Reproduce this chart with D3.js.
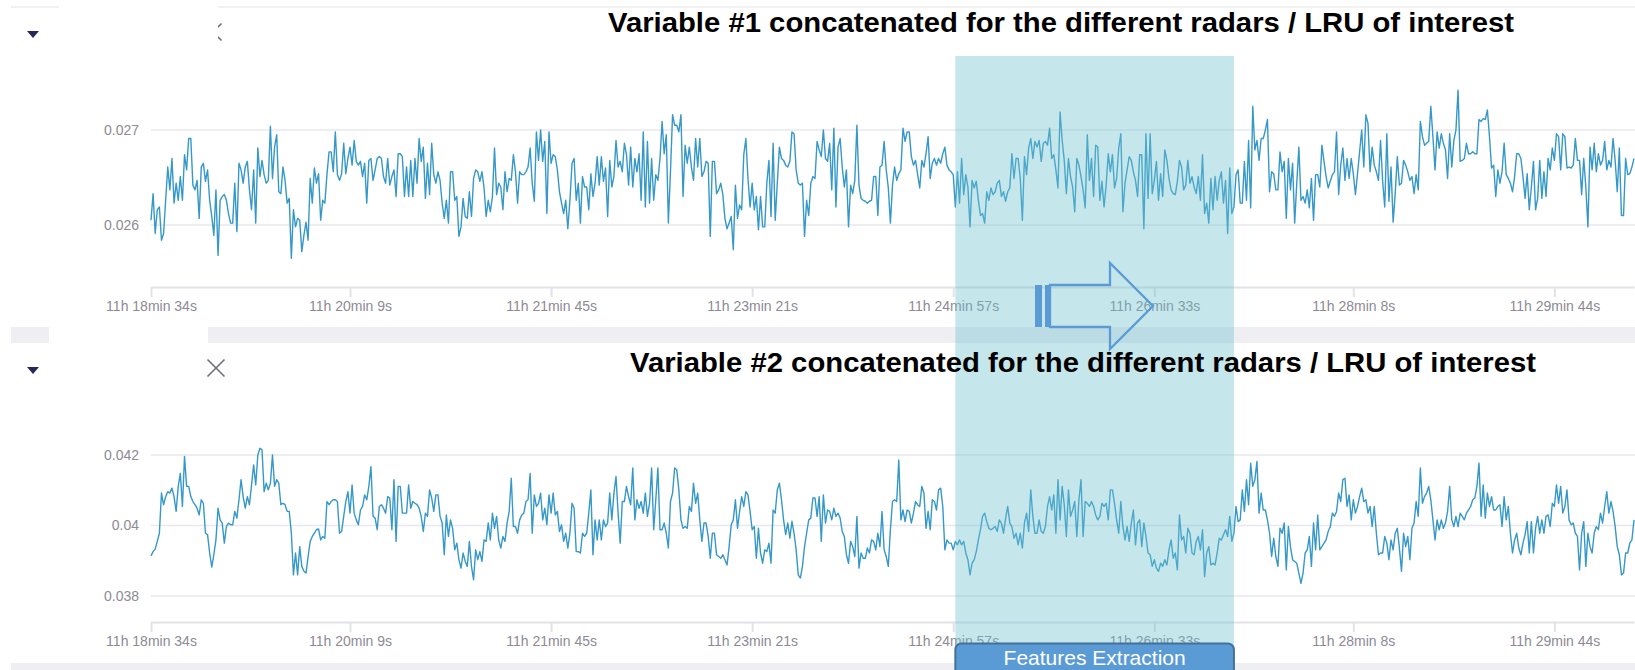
<!DOCTYPE html>
<html>
<head>
<meta charset="utf-8">
<title>Variables concatenated for the different radars</title>
<script src="https://cdn.jsdelivr.net/npm/d3@7"></script>
<style>
  body { margin: 0; background: #fff; font-family: "Liberation Sans", Arial, sans-serif; }
  svg { display: block; }
  .tick text, .ylab { fill: #8d8a94; font-size: 14px; font-family: "Liberation Sans", Arial, sans-serif; }
  .axis .domain, .axis .tick line { stroke: #e2e2e8; stroke-width: 2; }
  .grid { stroke: #e8e8ed; stroke-width: 1.5; }
  .series { fill: none; stroke: #3598c8; stroke-width: 1.4; stroke-linejoin: round; }
  .title { font-weight: bold; font-size: 28px; fill: #000; }
</style>
</head>
<body>
<div id="chart"></div>
<script>
// ---- data ----
// both variables sampled once per second, starting at startTime
const startTime = "11:18:34";
const xTickLabels = ["11h 18min 34s", "11h 20min 9s", "11h 21min 45s", "11h 23min 21s",
                     "11h 24min 57s", "11h 26min 33s", "11h 28min 8s", "11h 29min 44s"];
const var1Ticks = [0.026, 0.027];
const var1TickLabels = ["0.026", "0.027"];
const var2Ticks = [0.038, 0.04, 0.042];
const var2TickLabels = ["0.038", "0.04", "0.042"];
// time window picked for feature extraction
const extractionWindow = ["11:24:58", "11:27:11"];

const var1 = [
.02605,.02633,.02591,.02616,.02619,.02584,.02591,.02626,.02661,.02637,
.02670,.02623,.02644,.02626,.02651,.02626,.02674,.02658,.02691,.02691,
.02642,.02637,.02647,.02607,.02661,.02665,.02646,.02658,.02626,.02609,
.02589,.02637,.02568,.02626,.02630,.02632,.02626,.02612,.02602,.02602,
.02644,.02593,.02665,.02658,.02644,.02661,.02667,.02637,.02616,.02658,
.02602,.02681,.02651,.02668,.02653,.02644,.02647,.02704,.02649,.02682,
.02695,.02635,.02633,.02661,.02647,.02623,.02628,.02565,.02616,.02598,
.02607,.02605,.02572,.02589,.02603,.02584,.02649,.02623,.02660,.02644,
.02654,.02605,.02626,.02623,.02653,.02677,.02677,.02656,.02698,.02653,
.02647,.02654,.02686,.02654,.02670,.02682,.02663,.02689,.02667,.02663,
.02667,.02651,.02665,.02623,.02668,.02670,.02647,.02658,.02670,.02672,
.02670,.02651,.02644,.02670,.02642,.02651,.02658,.02630,.02675,
.02675,.02672,.02630,.02661,.02630,.02668,.02630,.02670,.02644,.02691,
.02667,.02682,.02628,.02665,.02632,.02686,.02653,.02644,.02656,.02647,
.02623,.02607,.02626,.02602,.02656,.02656,.02626,.02630,.02588,.02598,
.02628,.02609,.02607,.02635,.02609,.02649,.02658,.02656,.02646,.02656,
.02639,.02609,.02626,.02614,.02630,.02681,.02632,.02644,.02640,.02616,
.02656,.02635,.02649,.02647,.02674,.02656,.02623,.02656,.02653,.02653,
.02656,.02661,.02681,.02644,.02625,.02698,.02668,.02700,.02667,.02688,
.02612,.02698,.02665,.02674,.02672,.02658,.02635,.02623,.02612,.02626,
.02596,.02626,.02665,.02670,.02626,.02644,.02602,.02651,.02640,.02640,
.02616,.02654,.02630,.02644,.02672,.02642,.02672,.02646,.02660,.02609,
.02668,.02640,.02651,.02689,.02661,.02667,.02656,.02686,.02674,.02642,
.02682,.02640,.02670,.02656,.02675,.02626,.02698,.02619,.02688,.02623,
.02670,.02626,.02653,.02647,.02670,.02709,.02675,.02695,.02602,.02656,
.02716,.02705,.02705,.02698,.02716,.02630,.02684,.02665,.02682,.02661,
.02647,.02691,.02661,.02691,.02651,.02656,.02667,.02665,.02588,.02667,
.02667,.02633,.02637,.02644,.02632,.02607,.02596,.02602,.02609,.02574,
.02642,.02607,.02621,.02616,.02674,.02691,.02649,.02619,.02644,.02616,
.02630,.02595,.02630,.02598,.02598,.02644,.02668,.02609,.02686,.02605,
.02644,.02682,.02670,.02668,.02663,.02661,.02667,.02698,.02696,.02658,.02644,
.02642,.02644,.02588,.02626,.02610,.02644,.02651,.02649,.02688,.02679,
.02672,.02700,.02670,.02667,.02686,.02637,.02702,.02619,.02682,.02691,
.02661,.02640,.02658,.02598,.02642,.02633,.02647,.02705,.02642,.02628,
.02626,.02625,.02623,.02625,.02626,.02651,.02651,.02610,.02661,.02663,
.02688,.02658,.02639,.02602,.02642,.02661,.02647,.02654,.02658,.02702,
.02688,.02698,.02698,.02672,.02663,.02668,.02653,.02639,.02668,.02661,
.02675,.02693,.02649,.02665,.02670,.02663,.02670,.02665,.02675,.02682,
.02663,.02658,.02656,.02653,.02619,.02656,.02623,.02670,.02632,.02653,
.02640,.02598,.02647,.02639,.02646,.02626,.02610,.02612,.02602,.02635,
.02626,.02639,.02632,.02635,.02644,.02647,.02630,.02635,.02625,.02635,
.02639,.02675,.02649,.02670,.02670,.02649,.02605,.02672,.02653,.02681,
.02691,.02670,.02688,.02682,.02689,.02667,.02686,.02688,.02684,.02702,
.02670,.02674,.02658,.02639,.02719,.02689,.02668,.02633,.02670,.02651,
.02640,.02614,.02670,.02663,.02651,.02637,.02618,.02695,.02647,.02670,
.02630,.02684,.02682,.02626,.02646,.02619,.02642,.02675,.02656,.02674,
.02639,.02649,.02681,.02696,.02614,.02644,.02658,.02672,.02668,.02656,
.02647,.02630,.02674,.02674,.02596,.02696,.02628,.02696,.02633,.02647,
.02667,.02626,.02654,.02630,.02679,.02668,.02649,.02637,.02633,.02632,
.02646,.02668,.02661,.02637,.02642,.02668,.02644,.02651,.02640,.02633,.02651,
.02626,.02674,.02612,.02623,.02602,.02649,.02616,.02651,.02626,.02647,
.02656,.02623,.02647,.02591,.02660,.02612,.02619,.02653,.02658,.02623,
.02623,.02667,.02626,.02689,.02618,.02725,.02679,.02689,.02668,.02691,
.02691,.02700,.02711,.02635,.02656,.02654,.02637,.02637,.02677,.02656,
.02667,.02607,.02670,.02637,.02665,.02602,.02644,.02682,.02626,.02630,
.02623,.02637,.02618,.02649,.02605,.02653,.02653,.02640,.02684,.02667,
.02651,.02639,.02646,.02653,.02656,.02698,.02632,.02663,.02681,.02647,
.02670,.02649,.02670,.02654,.02632,.02654,.02677,.02700,.02661,.02716,
.02707,.02656,.02682,.02663,.02656,.02647,.02689,.02646,.02619,.02696,
.02625,.02661,.02603,.02633,.02672,.02642,.02644,.02668,.02663,.02656,
.02647,.02651,.02633,.02653,.02637,.02709,.02693,.02684,.02686,.02688,
.02725,.02693,.02658,.02698,.02681,.02696,.02686,.02679,.02649,.02696,
.02661,.02689,.02700,.02742,.02667,.02668,.02670,.02686,.02675,.02675,
.02677,.02675,.02675,.02711,.02709,.02712,.02711,.02721,.02693,.02660,
.02663,.02630,.02658,.02644,.02656,.02686,.02653,.02649,.02644,.02635,
.02651,.02675,.02675,.02670,.02651,.02628,.02654,.02616,.02640,.02667,
.02616,.02628,.02668,.02628,.02656,.02630,.02670,.02658,.02681,.02668,
.02696,.02693,.02658,.02696,.02693,.02660,.02661,.02660,.02663,.02691,
.02668,.02668,.02632,.02670,.02640,.02598,.02682,.02658,.02686,.02656,
.02675,.02663,.02668,.02688,.02658,.02668,.02661,.02691,.02668,.02635,
.02681,.02610,.02610,.02670,.02653,.02654,.02661,.02670
];

const var2 = [
.03914,.03926,.03933,.03955,.03978,.04092,.04059,.04082,.04096,.04092,
.04106,.04082,.04040,.04111,.04148,.04054,.04196,.04111,.04111,.04082,
.04068,.04059,.04049,.04030,.04073,.04063,.03978,.03974,.03922,.03882,
.03917,.03959,.04049,.04016,.04007,.03950,.03997,.04007,.04002,.04002,
.04040,.04021,.04073,.04130,.04082,.04049,.04082,.04059,.04115,.04172,
.04115,.04200,.04219,.04215,.04096,.04120,.04101,.04120,.04200,.04111,
.04130,.04120,.04059,.04063,.04059,.04040,.04040,.03978,.03860,.03922,
.03860,.03940,.03884,.03870,.03865,.03912,.03955,.03969,.03978,.03988,
.03990,.03959,.03969,.03964,.04068,.04059,.04068,.04073,.04073,.04068,
.03978,.03983,.04026,.04068,.04096,.04035,.04115,.04035,.04016,.04002,
.04044,.04054,.04087,.04073,.04111,.04167,.04026,.04021,.03988,.04054,
.04059,.04049,.04035,.04082,.04078,.03988,.04130,.03955,.04111,
.04111,.04035,.04035,.04035,.04115,.04049,.04068,.04063,.04059,.04049,
.04026,.03983,.04035,.04026,.04101,.04078,.04040,.04087,.04087,.04026,
.04007,.03917,.04030,.03969,.04016,.03992,.03931,.03950,.03903,.03879,
.03922,.03898,.03884,.03955,.03884,.03846,.03931,.03903,.03926,.03898,
.03959,.03955,.04007,.03959,.04035,.03992,.04026,.03959,.03936,.03969,
.03955,.04007,.04040,.04134,.03997,.03997,.03978,.04016,.04030,.04035,
.04068,.04073,.04148,.03978,.04087,.04054,.04063,.04092,.04016,.04049,
.04002,.04087,.04035,.04092,.04030,.04040,.03983,.04002,.03955,.03978,
.03936,.03978,.04063,.04049,.03926,.03926,.03922,.03978,.03969,.03978,
.04035,.04101,.03917,.04016,.03959,.04016,.03959,.04016,.03997,.04007,
.04092,.04016,.04092,.04139,.04035,.03950,.04068,.04068,.04111,.04082,
.04059,.04163,.04016,.04073,.04049,.04068,.04035,.04092,.04026,.04063,
.04163,.03988,.04073,.04163,.03988,.03988,.04007,.03978,.03936,.04068,
.04092,.04163,.04158,.04101,.04016,.03992,.03997,.03992,.04054,.04040,
.04120,.04063,.04092,.04016,.03955,.04007,.04007,.03969,.03907,.03978,
.03978,.03917,.03912,.03907,.03917,.03903,.03888,.03940,.04002,.04016,
.04073,.03992,.04040,.04082,.04054,.04096,.04087,.04040,.03988,.03997,
.03907,.03992,.03922,.03893,.03931,.03926,.03950,.03893,.04044,.04035,
.04101,.04120,.04073,.04016,.03974,.04007,.03964,.04012,.03978,.03931,.03860,
.03851,.03884,.03940,.03978,.04016,.04021,.04078,.04078,.04026,.04082,
.03955,.04087,.04007,.04044,.04040,.04016,.04049,.04026,.04035,.04021,
.03983,.03969,.03917,.03893,.03955,.03940,.03912,.04026,.03879,.03922,
.03907,.03907,.03936,.03922,.03959,.03955,.03931,.03978,.03940,.04040,
.03931,.03912,.03884,.03988,.04068,.04073,.04068,.04186,.04016,.04044,
.04011,.04044,.04040,.04007,.04035,.04068,.04059,.04054,.04111,.04092,
.03992,.04040,.03988,.04073,.04068,.04044,.04101,.04106,.04054,.03931,
.03959,.03950,.03950,.03931,.03955,.03945,.03959,.03945,.03955,.03922,
.03903,.03860,.03893,.03903,.03926,.03959,.03988,.04026,.04035,.04011,
.03992,.03988,.03992,.03997,.03983,.04016,.04007,.03978,.04021,.04054,
.04007,.03997,.03964,.03978,.03945,.03978,.03936,.04007,.04035,.03983,
.04101,.04026,.03978,.03978,.04016,.03983,.03978,.03997,.04054,.04082,
.04044,.04087,.03978,.04130,.04016,.04111,.04059,.03969,.04101,.04026,
.04044,.04068,.03969,.04073,.04130,.03969,.04068,.04063,.04054,.04068,
.04054,.04030,.04016,.04026,.04063,.04054,.04063,.04016,.04101,.04101,
.04063,.04016,.03978,.04068,.03997,.03959,.03997,.03955,.04007,.04044,
.03945,.04007,.04016,.03940,.04007,.03969,.03922,.03917,.03884,.03903,
.03879,.03870,.03893,.03884,.03903,.03888,.03931,.03959,.03907,.03922,
.03874,.04030,.03959,.03969,.03922,.03992,.03978,.03922,.03917,.03955,.03969,
.03931,.03988,.03855,.03922,.03940,.03888,.03893,.03888,.03922,.03964,
.03959,.03974,.03988,.03969,.04026,.03955,.03978,.04054,.04011,.04016,
.04101,.04040,.04130,.04059,.04177,.04111,.04130,.04182,.04035,.04092,
.04044,.04044,.04016,.03978,.03912,.03964,.03912,.03884,.03992,.03978,
.04007,.03874,.03997,.03940,.03903,.03898,.03893,.03865,.03836,.03865,
.03922,.03931,.03969,.03884,.04007,.03931,.04030,.03931,.03940,.03950,
.03959,.03983,.03997,.04035,.04026,.04040,.04092,.04068,.04130,.04134,
.04054,.04087,.04016,.04073,.04035,.04054,.04082,.04106,.04068,.04073,
.04035,.04054,.03997,.04054,.03978,.03917,.03922,.03922,.03969,.03950,
.03903,.03959,.03931,.03978,.03992,.03936,.03870,.03978,.03940,.03969,
.03903,.03992,.04007,.04068,.04026,.04163,.04063,.04082,.04092,.04111,
.04073,.04016,.03959,.04016,.03988,.04016,.03992,.04007,.04040,.04111,
.04016,.03997,.04026,.03997,.04035,.04026,.04016,.04035,.04044,.04054,
.04073,.04078,.04111,.04177,.04026,.04115,.04021,.04092,.04054,.04082,
.04044,.04044,.04054,.04059,.03997,.04082,.04016,.04054,.03978,.03922,
.03959,.03978,.03936,.03917,.03950,.03974,.04011,.03922,.04011,.03922,
.03992,.04026,.03978,.04016,.03978,.04026,.04030,.03997,.04063,.04054,
.04115,.04063,.04111,.04035,.04054,.04101,.04016,.04002,.04007,.03978,
.03969,.03874,.03978,.04011,.03884,.03978,.03940,.03922,.03978,.03997,
.03988,.04035,.04007,.04054,.04096,.04035,.04068,.04040,.03997,.03940,
.03917,.03860,.03865,.03922,.03922,.03950,.03959,.04016
];

// ---- layout ----
const W = 1635, H = 670;
const plotLeft = 151, plotRight = 1634;

const parseClock = d3.timeParse("%H:%M:%S");
const parseTick = d3.timeParse("%Hh %Mmin %Ss");
const t0 = parseClock(startTime);
const timeAt = i => new Date(t0.getTime() + i * 1000);
const tickDates = xTickLabels.map(parseTick);

const x = d3.scaleTime()
  .domain([t0, timeAt(Math.max(var1.length, var2.length) - 1)])
  .range([plotLeft, plotRight]);

const svg = d3.select("#chart").append("svg")
  .attr("width", W)
  .attr("height", H);

// dashboard chrome (panel separators, collapse arrows, close buttons)
svg.append("line").attr("x1", 11).attr("x2", W).attr("y1", 7).attr("y2", 7)
  .attr("stroke", "#ececf0").attr("stroke-width", 1.5);
svg.append("rect").attr("x", 11).attr("y", 327).attr("width", W - 11).attr("height", 16)
  .attr("fill", "#efeff3");
svg.append("rect").attr("x", 11).attr("y", 663).attr("width", W - 11).attr("height", 7)
  .attr("fill", "#efeff3");

function closeIcon(cx, cy) {
  svg.append("path")
    .attr("d", `M${cx - 8.5},${cy - 8.5}L${cx + 8.5},${cy + 8.5}M${cx - 8.5},${cy + 8.5}L${cx + 8.5},${cy - 8.5}`)
    .attr("stroke", "#6d6d78").attr("stroke-width", 1.6).attr("fill", "none");
}
closeIcon(213, 32);
closeIcon(216, 368);

// white tabs hiding the panel names
svg.append("rect").attr("x", 59).attr("y", 0).attr("width", 159).attr("height", 50).attr("fill", "#fff");
svg.append("rect").attr("x", 49).attr("y", 327).attr("width", 159).attr("height", 16).attr("fill", "#fff");

[31, 367].forEach(y0 => {
  svg.append("path")
    .attr("d", `M27,${y0}L39,${y0}L33,${y0 + 7}Z`)
    .attr("fill", "#26265a");
});

// ---- panels ----
const panels = [
  { values: var1, ticks: var1Ticks, labels: var1TickLabels, yRange: [225, 130], axisY: 287 },
  { values: var2, ticks: var2Ticks, labels: var2TickLabels, yRange: [596, 455], axisY: 622 }
];

panels.forEach(p => {
  const y = d3.scaleLinear()
    .domain([p.ticks[0], p.ticks[p.ticks.length - 1]])
    .range(p.yRange);
  const g = svg.append("g");

  g.selectAll("line.grid").data(p.ticks).join("line")
    .attr("class", "grid")
    .attr("x1", plotLeft).attr("x2", W)
    .attr("y1", d => y(d)).attr("y2", d => y(d));

  g.selectAll("text.ylab").data(p.ticks).join("text")
    .attr("class", "ylab")
    .attr("x", 139)
    .attr("y", d => y(d))
    .attr("dy", "0.35em")
    .attr("text-anchor", "end")
    .text((d, i) => p.labels[i]);

  g.append("g")
    .attr("class", "axis")
    .attr("transform", `translate(0,${p.axisY})`)
    .call(d3.axisBottom(x)
      .tickValues(tickDates)
      .tickFormat((d, i) => xTickLabels[i])
      .tickSize(10)
      .tickSizeOuter(0)
      .tickPadding(4))
    .call(a => a.selectAll(".tick text").attr("font-size", null).attr("font-family", null));

  const line = d3.line()
    .x((d, i) => x(timeAt(i)))
    .y(d => y(d));

  g.append("path")
    .datum(p.values)
    .attr("class", "series")
    .attr("d", line);
});

// ---- annotations ----
const w0 = x(parseClock(extractionWindow[0]));
const w1 = x(parseClock(extractionWindow[1]));

svg.append("rect")
  .attr("x", w0).attr("y", 56)
  .attr("width", w1 - w0).attr("height", H - 56)
  .attr("fill", "#6fc0cc")
  .attr("fill-opacity", 0.4);

svg.append("text").attr("class", "title")
  .attr("x", 608).attr("y", 32)
  .attr("textLength", 906).attr("lengthAdjust", "spacingAndGlyphs")
  .text("Variable #1 concatenated for the different radars / LRU of interest");

svg.append("text").attr("class", "title")
  .attr("x", 630).attr("y", 372)
  .attr("textLength", 906).attr("lengthAdjust", "spacingAndGlyphs")
  .text("Variable #2 concatenated for the different radars / LRU of interest");

// striped block arrow
const arrow = svg.append("g").attr("fill", "#5b9bd5");
arrow.append("rect").attr("x", 1035).attr("y", 285).attr("width", 7).attr("height", 42);
arrow.append("rect").attr("x", 1045).attr("y", 285).attr("width", 4.5).attr("height", 42);
arrow.append("path")
  .attr("d", "M1050,285L1110,285L1110,263L1153,306L1110,349L1110,327L1050,327Z")
  .attr("fill", "none")
  .attr("stroke", "#5b9bd5")
  .attr("stroke-width", 2.3);

// button
svg.append("rect")
  .attr("x", w0).attr("y", 643.5)
  .attr("width", w1 - w0).attr("height", 40)
  .attr("rx", 6)
  .attr("fill", "#5b9bd5")
  .attr("stroke", "#41719c")
  .attr("stroke-width", 2);

svg.append("text")
  .attr("x", (w0 + w1) / 2).attr("y", 665)
  .attr("text-anchor", "middle")
  .attr("fill", "#fff")
  .attr("font-size", 21)
  .text("Features Extraction");
</script>
</body>
</html>
